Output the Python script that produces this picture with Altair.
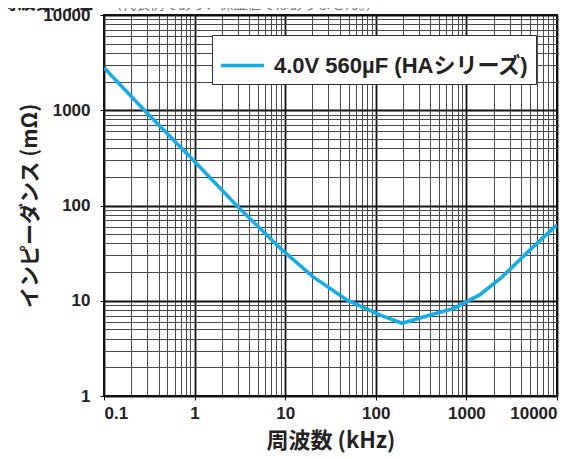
import altair as alt
import pandas as pd

# Data
freq_khz = [0.1, 0.3, 1, 3, 9, 20, 48, 110, 195, 400, 720, 1400, 2450, 5000, 9500, 10000]
impedance_mohm = [2800, 930, 290, 97, 35, 18, 10.2, 7.1, 5.8, 7.1, 8.3, 11.5, 17.6, 34, 60, 62]
series_name = "4.0V 560µF (HAシリーズ)"
line_color = "#14ADE8"

x_decades = [0.1, 1, 10, 100, 1000, 10000]
y_decades = [1, 10, 100, 1000, 10000]
mults = [1, 2, 3, 4, 5, 6, 7, 8, 9]

x_grid = sorted({round(d * m, 6) for d in x_decades[:-1] for m in mults} | {x_decades[-1]})
y_grid = sorted({round(d * m, 6) for d in y_decades[:-1] for m in mults} | {y_decades[-1]})

title_main = "周波数特性"
title_note = "（代表例であり、保証値ではありません。）"
x_title = "周波数 (kHz)"
y_title = "インピーダンス (mΩ)"

df = pd.DataFrame({"f": freq_khz, "z": impedance_mohm, "s": [series_name] * len(freq_khz)})

FONT = "Liberation Sans, Noto Sans CJK JP, sans-serif"
CJK = "Noto Sans CJK JP, sans-serif"
major = "abs(log(datum.value)/LN10 - round(log(datum.value)/LN10)) < 1e-6"

def axis_common(values, label_expr, **kw):
    return alt.Axis(
        values=values,
        labelExpr=label_expr,
        grid=True,
        gridColor={"condition": {"test": major, "value": "#111111"}, "value": "#4a4a4a"},
        gridWidth={"condition": {"test": major, "value": 1.8}, "value": 1.0},
        tickColor={"condition": {"test": major, "value": "#111111"}, "value": "transparent"},
        tickSize=4,
        domain=False,
        labelFont=FONT,
        labelFontWeight="bold",
        labelFontSize=17,
        labelColor="#222222",
        titleFont=CJK,
        titleFontWeight="bold",
        titleColor="#222222",
        labelOverlap=False,
        **kw,
    )

x_axis = axis_common(
    x_grid,
    f"{major} ? (datum.value < 1 ? '0.1' : format(datum.value, 'd')) : ''",
    title=x_title,
    titleFontSize=22,
    labelPadding=5,
    titlePadding=9,
)
y_axis = axis_common(
    y_grid,
    f"{major} ? format(datum.value, 'd') : ''",
    title=y_title,
    titleFontSize=21,
    labelPadding=10,
    titlePadding=2,
)

line = alt.Chart(df).mark_line(strokeWidth=3.6, clip=True).encode(
    x=alt.X("f:Q", scale=alt.Scale(type="log", domain=[0.1, 10000], nice=False), axis=x_axis),
    y=alt.Y("z:Q", scale=alt.Scale(type="log", domain=[1, 10000], nice=False), axis=y_axis),
    color=alt.Color(
        "s:N",
        scale=alt.Scale(domain=[series_name], range=[line_color]),
        legend=alt.Legend(
            title=None,
            orient="none",
            legendX=108,
            legendY=20,
            fillColor="white",
            strokeColor="#333333",
            padding=7,
            symbolType="stroke",
            symbolSize=1850,
            symbolStrokeWidth=3.6,
            labelFont=FONT,
            labelFontWeight="bold",
            labelFontSize=22,
            labelColor="#222222",
            labelLimit=400,
            labelOffset=8,
        ),
    ),
)

t1 = alt.Chart(pd.DataFrame({"t": [title_main]})).mark_text(
    align="left", baseline="alphabetic", font=CJK, fontWeight="bold", fontSize=19, color="#222222"
).encode(x=alt.value(-106), y=alt.value(-6), text="t:N")
t2 = alt.Chart(pd.DataFrame({"t": [title_note]})).mark_text(
    align="left", baseline="alphabetic", font=CJK, fontSize=14, color="#777777"
).encode(x=alt.value(4), y=alt.value(-6), text="t:N")

chart = alt.layer(line, t1, t2).properties(
    width=453,
    height=381,
    autosize=alt.AutoSizeParams(type="none"),
    padding={"left": 96, "top": 7, "right": 20, "bottom": 62},
).configure_view(stroke="#111111", strokeWidth=2)

chart.save("out.html", embed_options={"renderer": "svg", "actions": False})
